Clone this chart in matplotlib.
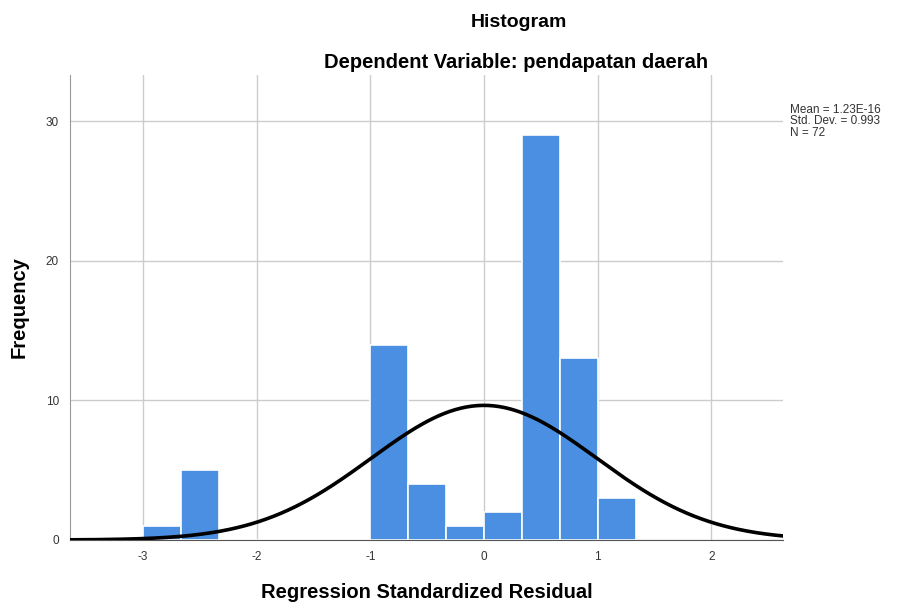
import numpy as np
import matplotlib
matplotlib.use('Agg')
import matplotlib.pyplot as plt

# histogram bins (width 1/3) and counts
bin_edges = [-3, -8/3, -7/3, -2, -5/3, -4/3, -1, -2/3, -1/3, 0, 1/3, 2/3, 1, 4/3]
counts = [1, 5, 0, 0, 0, 0, 14, 4, 1, 2, 29, 13, 3]
mean = 1.23e-16
std = 0.993
n = 72

plt.rcParams['font.family'] = ['Arial', 'Liberation Sans', 'DejaVu Sans']
plt.rcParams['axes.unicode_minus'] = False

fig = plt.figure(figsize=(8.99, 6.03), dpi=100)
ax = fig.add_axes([0.078, 0.1045, 0.793, 0.771])

lefts = np.array(bin_edges[:-1])
widths = np.diff(bin_edges)
ax.bar(lefts, counts, width=widths, align='edge', color='#4a8fe2',
       edgecolor='white', linewidth=1.2, zorder=2)

# normal curve scaled to counts
xs = np.linspace(-3.7, 2.7, 400)
bw = 1/3
ys = n * bw * np.exp(-0.5 * ((xs - mean) / std) ** 2) / (std * np.sqrt(2 * np.pi))
ax.plot(xs, ys, color='black', linewidth=2.6, zorder=3)

ax.set_xlim(-3.64, 2.63)
ax.set_ylim(0, 33.3)
ax.set_xticks([-3, -2, -1, 0, 1, 2])
ax.set_yticks([0, 10, 20, 30])
ax.tick_params(length=0, labelsize=8.5, colors='#333333', pad=8)
ax.grid(True, color='#cccccc', linewidth=1, zorder=0)
ax.set_axisbelow(True)
for s in ['top', 'right']:
    ax.spines[s].set_visible(False)
ax.spines['left'].set_color('#999999')
ax.spines['bottom'].set_color('#555555')

ax.set_xlabel('Regression Standardized Residual', fontsize=14.5, fontweight='bold', labelpad=14)
ax.set_ylabel('Frequency', fontsize=14.5, fontweight='bold', labelpad=12)

fig.text(0.577, 0.963, 'Histogram', ha='center', va='center', fontsize=14, fontweight='bold')
fig.text(0.574, 0.897, 'Dependent Variable: pendapatan daerah', ha='center', va='center',
         fontsize=14.5, fontweight='bold')

fig.text(0.879, 0.799, 'Mean = 1.23E-16\nStd. Dev. = 0.993\nN = 72', ha='left', va='center',
         fontsize=8.5, color='#333333', linespacing=0.95)

fig.savefig('out.png', dpi=100)
